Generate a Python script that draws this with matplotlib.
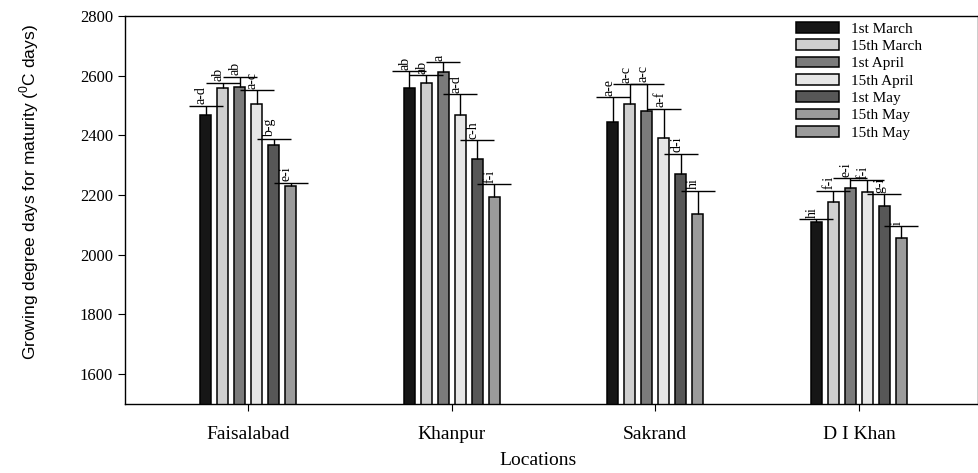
#!/usr/bin/env python3
"""Growing degree days to maturity for six sowing dates at four locations."""

import matplotlib
matplotlib.use("Agg")
import matplotlib.pyplot as plt
import numpy as np
from matplotlib.patches import Patch

locations = ["Faisalabad", "Khanpur", "Sakrand", "D I Khan"]
sowing_dates = ["1st March", "15th March", "1st April", "15th April",
                "1st May", "15th May"]
legend_labels = sowing_dates + ["15th May"]

# mean GDD per sowing date (rows) and location (columns)
gdd = [
    [2470, 2558, 2445, 2110],
    [2558, 2576, 2504, 2177],
    [2563, 2611, 2482, 2225],
    [2504, 2468, 2393, 2212],
    [2369, 2322, 2271, 2162],
    [2229, 2192, 2135, 2057],
]
gdd_err = [
    [29, 58, 83, 9],
    [19, 25, 67, 38],
    [34, 35, 92, 31],
    [47, 71, 96, 38],
    [20, 61, 68, 42],
    [12, 45, 80, 39],
]
letters = [
    ["a-d", "ab", "a-e", "hi"],
    ["ab", "ab", "a-c", "f-i"],
    ["ab", "a", "a-c", "e-i"],
    ["a-c", "a-d", "a-f", "f-i"],
    ["b-g", "c-h", "d-i", "g-i"],
    ["e-i", "f-i", "hi", "i"],
]

colors = ["#161616", "#cfcfcf", "#7b7b7b", "#e6e6e6", "#575757", "#9b9b9b",
          "#9b9b9b"]

serif = ["Liberation Serif", "DejaVu Serif"]
sans = ["Liberation Sans", "DejaVu Sans"]
plt.rcParams["font.family"] = serif
plt.rcParams["mathtext.fontset"] = "custom"
plt.rcParams["mathtext.rm"] = "Liberation Sans"

fig = plt.figure(figsize=(9.79, 4.73), dpi=100)
ax = fig.add_axes([0.1277, 0.146, 0.8713, 0.820])

x = np.arange(1, len(locations) + 1)
pitch = 0.0835
width = 0.054
n = len(sowing_dates)
for i in range(n):
    xs = x + (i - (n - 1) / 2) * pitch
    ax.bar(xs, gdd[i], width, bottom=0, color=colors[i], edgecolor="black",
           linewidth=1.1, zorder=2)
    # one-sided (upper) error bars: drop the cap sitting on the bar top
    _, caps, _ = ax.errorbar(xs, gdd[i], yerr=[np.zeros(len(x)), gdd_err[i]],
                             fmt="none", ecolor="black", elinewidth=1.0,
                             capsize=12, capthick=1.0, zorder=3)
    for cap in caps:
        if np.allclose(cap.get_ydata(), gdd[i]):
            cap.set_visible(False)
    for xi, top, e, lab in zip(xs, gdd[i], gdd_err[i], letters[i]):
        ax.annotate(lab, (xi, top + e), xytext=(-3, 1),
                    textcoords="offset points", rotation=90, ha="center",
                    va="bottom", fontsize=10)

ax.set_xlim(0.396, 4.585)
ax.set_ylim(1500, 2800)
ax.set_yticks(range(1600, 2801, 200))
ax.set_xticks(x)
ax.set_xticklabels(locations, fontsize=14)
ax.tick_params(axis="x", length=5, pad=11, direction="out")
ax.tick_params(axis="y", length=5, labelsize=12, direction="out")
for s in ax.spines.values():
    s.set_linewidth(1.0)

ax.set_xlabel("Locations", fontsize=14)
ax.xaxis.set_label_coords(0.484, -0.125)
ax.set_ylabel(r"Growing degree days for maturity ($^\mathregular{0}$C days)",
              fontsize=12.5, family=sans)
ax.yaxis.set_label_coords(-0.098, 0.546)

handles = [Patch(facecolor=c, edgecolor="black", linewidth=1.1)
           for c in colors]
ax.legend(handles, legend_labels, loc="upper left",
          bbox_to_anchor=(0.787, 0.985), frameon=False, fontsize=11,
          handlelength=2.8, handleheight=0.7, handletextpad=0.8,
          labelspacing=0.24, borderpad=0, borderaxespad=0)

fig.savefig("out.png", dpi=100)
plt.close(fig)
